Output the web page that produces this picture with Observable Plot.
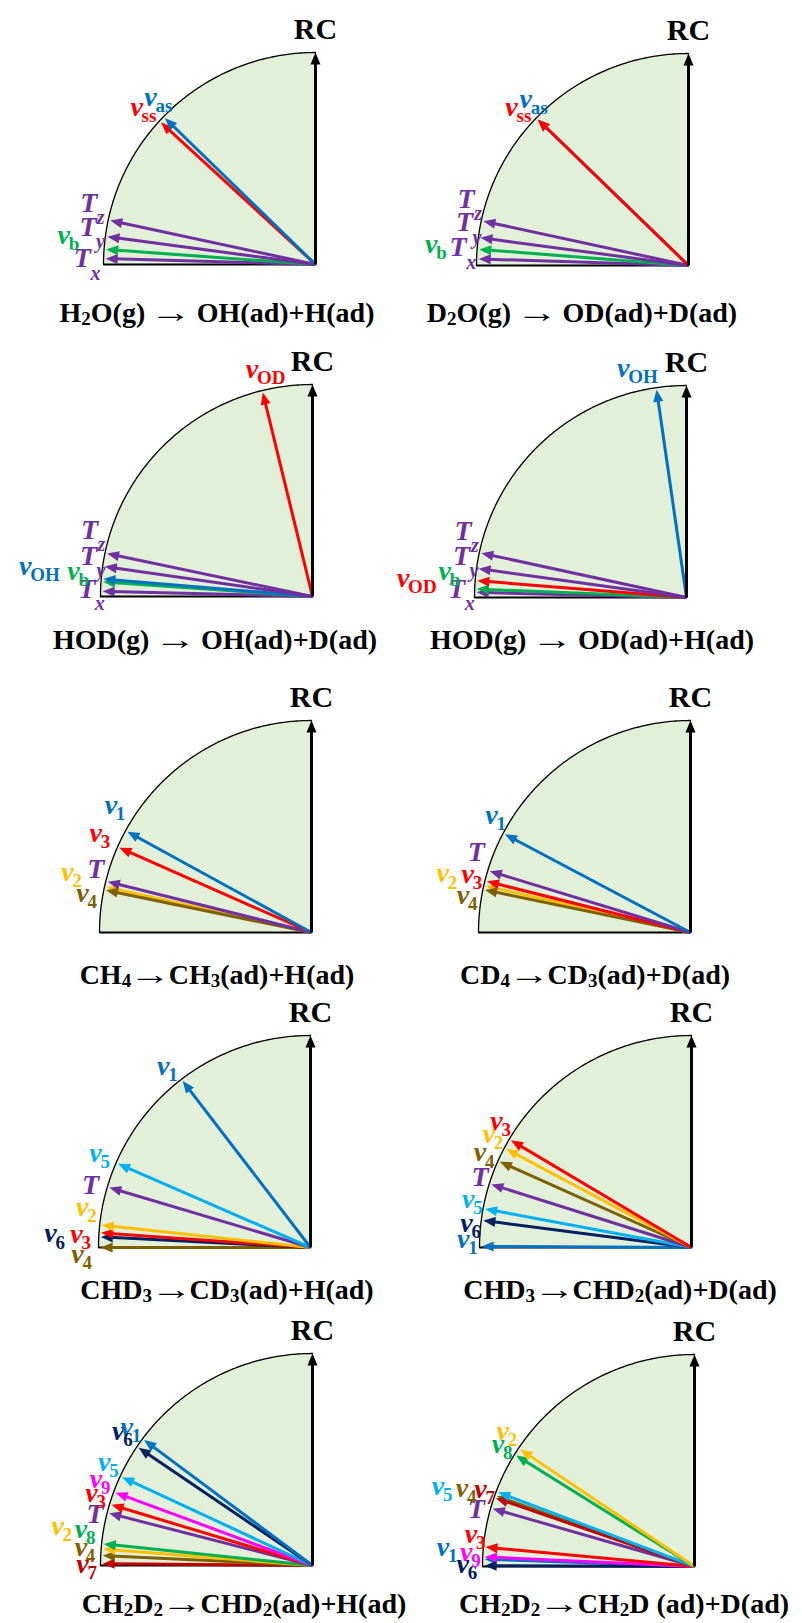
<!DOCTYPE html>
<html><head><meta charset="utf-8">
<script src="https://cdn.jsdelivr.net/npm/d3@7"></script>
<script src="https://cdn.jsdelivr.net/npm/@observablehq/plot@0.6"></script>
<style>
html,body{margin:0;padding:0;background:#fff;}
#page{position:relative;width:802px;height:1623px;overflow:hidden;font-family:"Liberation Serif","Times New Roman",serif;}
.panel{position:absolute;}
.panel svg{overflow:visible;background:transparent;}
.title{position:absolute;transform:translate(-50%,-50%);white-space:nowrap;font-weight:bold;font-size:28px;line-height:1;color:#000;font-family:"Liberation Serif","Times New Roman",serif;}
.title sub{font-size:0.68em;vertical-align:-0.18em;line-height:0;}
.title .arr{display:inline-block;transform:scaleX(1.5);margin:0 0.17em;}
</style></head><body><div id="page"></div>
<script>
// ---------------- DATA ----------------
const titles = [
  "H<sub>2</sub>O(g) <span class='arr'>→</span> OH(ad)+H(ad)",
  "D<sub>2</sub>O(g) <span class='arr'>→</span> OD(ad)+D(ad)",
  "HOD(g) <span class='arr'>→</span> OH(ad)+D(ad)",
  "HOD(g) <span class='arr'>→</span> OD(ad)+H(ad)",
  "CH<sub>4</sub><span class='arr'>→</span>CH<sub>3</sub>(ad)+H(ad)",
  "CD<sub>4</sub><span class='arr'>→</span>CD<sub>3</sub>(ad)+D(ad)",
  "CHD<sub>3</sub><span class='arr'>→</span>CD<sub>3</sub>(ad)+H(ad)",
  "CHD<sub>3</sub><span class='arr'>→</span>CHD<sub>2</sub>(ad)+D(ad)",
  "CH<sub>2</sub>D<sub>2</sub><span class='arr'>→</span>CHD<sub>2</sub>(ad)+H(ad)",
  "CH<sub>2</sub>D<sub>2</sub><span class='arr'>→</span>CH<sub>2</sub>D (ad)+D(ad)"
];
const axisLabel = "RC";

// angle of each mode vector, degrees above the horizontal (90° = RC)
const p1Modes = ["Tx","b","Ty","Tz","ss","as"];
const p1Angles = [1.6, 4.1, 7.6, 12.1, 42.6, 44.2];
const p1LabelAngles = [1.5, 6.6, 9.4, 15.2, 41.4, 45.5];
const p1LabelRadii = [1.10, 1.195, 1.088, 1.108, 1.125, 1.11];

const p2Modes = ["Tx","b","Ty","Tz","as","ss"];
const p2Angles = [1.8, 4.4, 7.6, 12.2, 44.1, 44.1];
const p2LabelAngles = [4.5, 4.8, 10.9, 16.7, 45.7, 41.8];
const p2LabelRadii = [1.09, 1.218, 1.076, 1.095, 1.10, 1.12];

const p3Modes = ["Tx","b","OH","Ty","Tz","OD"];
const p3Angles = [1.4, 4.0, 4.8, 8.2, 11.8, 76.3];
const p3LabelAngles = [1.9, 6.1, 6.1, 10.3, 16.6, 75.1];
const p3LabelRadii = [1.065, 1.134, 1.363, 1.074, 1.098, 1.11];

const p4Modes = ["Tx","b","OD","Ty","Tz","OH"];
const p4Angles = [1.4, 2.3, 4.6, 7.9, 12.2, 81.8];
const p4LabelAngles = [2.1, 6.3, 4.0, 10.5, 16.6, 74.6];
const p4LabelRadii = [1.085, 1.147, 1.34, 1.079, 1.10, 1.125];

const p5Modes = ["2","4","T","3","1"];
const p5Angles = [12.5, 11.6, 14.0, 23.8, 28.7];
const p5LabelAngles = [14.0, 9.7, 16.5, 24.7, 32.4];
const p5LabelRadii = [1.186, 1.096, 1.061, 1.12, 1.121];

const p6Modes = ["2","4","3","T","1"];
const p6Angles = [12.8, 11.7, 14.1, 17.0, 27.9];
const p6LabelAngles = [13.4, 9.3, 14.8, 20.6, 30.5];
const p6LabelRadii = [1.201, 1.088, 1.087, 1.08, 1.09];

const p7Modes = ["4","6","3","2","T","5","1"];
const p7Angles = [0.0, 2.9, 4.0, 6.1, 16.6, 23.5, 52.5];
const p7LabelAngles = [-1.5, 3.1, 3.4, 10.1, 15.8, 23.8, 50.9];
const p7LabelRadii = [1.10, 1.228, 1.106, 1.094, 1.078, 1.108, 1.102];

const p8Modes = ["1","6","5","T","4","2","3"];
const p8Angles = [0.3, 7.4, 10.6, 17.5, 24.1, 28.0, 30.7];
const p8LabelAngles = [2.1, 6.3, 12.2, 18.5, 24.2, 29.2, 33.0];
const p8LabelRadii = [1.077, 1.068, 1.078, 1.052, 1.094, 1.095, 1.097];

const p9Modes = ["7","4","2","8","T","3","9","5","6","1"];
const p9Angles = [0.5, 2.7, 4.5, 5.9, 14.4, 16.8, 20.3, 24.9, 34.1, 36.7];
const p9LabelAngles = [0.4, 4.5, 8.9, 9.0, 13.4, 18.1, 21.8, 26.4, 34.7, 36.7];
const p9LabelRadii = [1.085, 1.096, 1.217, 1.106, 1.055, 1.097, 1.10, 1.097, 1.115, 1.093];

const p10Modes = ["1","6","9","3","T","4","7","5","8","2"];
const p10Angles = [2.0, 0.2, 2.6, 5.3, 16.0, 19.6, 19.0, 20.7, 31.9, 33.9];
const p10LabelAngles = [4.4, 0.7, 3.6, 8.3, 14.8, 18.7, 20.0, 17.5, 32.0, 35.2];
const p10LabelRadii = [1.19, 1.093, 1.079, 1.065, 1.065, 1.158, 1.074, 1.269, 1.093, 1.107];

// ---------------- STYLE / LAYOUT ----------------
const palette = {
  as:"#0070C0", ss:"#FF0000", b:"#00B050", OD:"#FF0000", OH:"#0070C0",
  Tx:"#7030A0", Ty:"#7030A0", Tz:"#7030A0", T:"#7030A0",
  "1":"#0070C0", "2":"#FFC000", "3":"#FF0000", "4":"#7F6000", "5":"#00B0F0",
  "6":"#002060", "7":"#C00000", "8":"#00B050", "9":"#FF00FF"
};
const panelData = [
  [p1Modes,p1Angles,p1LabelAngles,p1LabelRadii],
  [p2Modes,p2Angles,p2LabelAngles,p2LabelRadii],
  [p3Modes,p3Angles,p3LabelAngles,p3LabelRadii],
  [p4Modes,p4Angles,p4LabelAngles,p4LabelRadii],
  [p5Modes,p5Angles,p5LabelAngles,p5LabelRadii],
  [p6Modes,p6Angles,p6LabelAngles,p6LabelRadii],
  [p7Modes,p7Angles,p7LabelAngles,p7LabelRadii],
  [p8Modes,p8Angles,p8LabelAngles,p8LabelRadii],
  [p9Modes,p9Angles,p9LabelAngles,p9LabelRadii],
  [p10Modes,p10Angles,p10LabelAngles,p10LabelRadii]
];
const origins = [[315,264],[688,265],[312,596],[686,597],[311,932],[690,932],[310,1247],[691,1247],[312,1565],[694,1566]];
const titlePos = [[217,313],[582,313],[215,640],[592,640],[217,975],[595,975],[227,1290],[620,1290],[244,1604],[624,1604]];
const R = 212, W = 401, H = 300, ABOVE = 250;
const serif = "'Liberation Serif','Times New Roman',serif";
const rad = Math.PI / 180;
const TIP = 0.99, HEADL = 12 / R, HEADW = 10 / R;

const page = document.getElementById("page");

function arrowMarks(angleDeg, color, len) {
  const ux = -Math.cos(angleDeg * rad), uy = Math.sin(angleDeg * rad);
  const px = Math.sin(angleDeg * rad), py = Math.cos(angleDeg * rad);
  const tx = len * ux, ty = len * uy;
  const bx = tx - HEADL * ux, by = ty - HEADL * uy;
  const seg = [{x1: 0, y1: 0, x2: tx - 0.7 * HEADL * ux, y2: ty - 0.7 * HEADL * uy}];
  const head = [
    {x: tx, y: ty},
    {x: bx + HEADW / 2 * px, y: by + HEADW / 2 * py},
    {x: bx - HEADW / 2 * px, y: by - HEADW / 2 * py}
  ];
  return [
    Plot.link(seg, {x1: "x1", y1: "y1", x2: "x2", y2: "y2", stroke: color, strokeWidth: 3}),
    Plot.line(head, {x: "x", y: "y", fill: color, stroke: "none"})
  ];
}

panelData.forEach(([modes, angles, labA, labR], i) => {
  const [ox, oy] = origins[i];
  const left = i % 2 === 0 ? 0 : 401;
  const top = oy - ABOVE;
  const lx = ox - left;
  const arc = d3.range(0, 90.001, 0.5).map(t => ({x: -Math.cos(t * rad), y0: 0, y: Math.sin(t * rad)}));
  const labels = modes.map((m, k) => ({
    x: labR[k] * -Math.cos(labA[k] * rad),
    y: labR[k] * Math.sin(labA[k] * rad),
    glyph: m.startsWith("T") ? "T" : "ν",
    sub: m.startsWith("T") ? m.slice(1) : m,
    isT: m.startsWith("T"),
    color: palette[m]
  }));
  const marks = [
    Plot.areaY(arc, {x: "x", y1: "y0", y2: "y", fill: "#E2EFD9"}),
    Plot.line(arc, {x: "x", y: "y", stroke: "#000", strokeWidth: 1.3}),
    Plot.link([{x1: -1, y1: 0, x2: 0, y2: 0}], {x1: "x1", y1: "y1", x2: "x2", y2: "y2", stroke: "#000", strokeWidth: 2})
  ];
  modes.forEach((m, k) => marks.push(...arrowMarks(angles[k], palette[m], TIP)));
  marks.push(...arrowMarks(90, "#000", 1.0));
  marks.push(
    Plot.text([{x: 0, y: 1, t: axisLabel}], {x: "x", y: "y", text: "t", dy: -23, fontSize: 30, fontWeight: "bold", fontFamily: serif, fill: "#000"}),
    Plot.text(labels, {x: "x", y: "y", text: "glyph", fill: "color", fontSize: 28, fontWeight: "bold", fontStyle: "italic", fontFamily: serif}),
    Plot.text(labels.filter(d => !d.isT), {x: "x", y: "y", text: "sub", fill: "color", fontSize: 19, fontWeight: "bold", fontFamily: serif, textAnchor: "start", dx: 5, dy: 9}),
    Plot.text(labels.filter(d => d.isT), {x: "x", y: "y", text: "sub", fill: "color", fontSize: 20, fontWeight: "bold", fontStyle: "italic", fontFamily: serif, textAnchor: "start", dx: 8, dy: 15})
  );
  const svg = Plot.plot({
    width: W, height: H,
    marginTop: 0, marginRight: 0, marginBottom: 0, marginLeft: 0,
    x: {domain: [-lx / R, (W - lx) / R], axis: null},
    y: {domain: [-(H - ABOVE) / R, ABOVE / R], axis: null},
    color: {type: "identity"},
    style: {background: "transparent", overflow: "visible"},
    marks
  });
  const div = document.createElement("div");
  div.className = "panel";
  div.style.left = left + "px";
  div.style.top = top + "px";
  div.appendChild(svg);
  page.appendChild(div);

  const t = document.createElement("div");
  t.className = "title";
  t.style.left = titlePos[i][0] + "px";
  t.style.top = titlePos[i][1] + "px";
  t.innerHTML = titles[i];
  page.appendChild(t);
});
</script>
</body></html>
